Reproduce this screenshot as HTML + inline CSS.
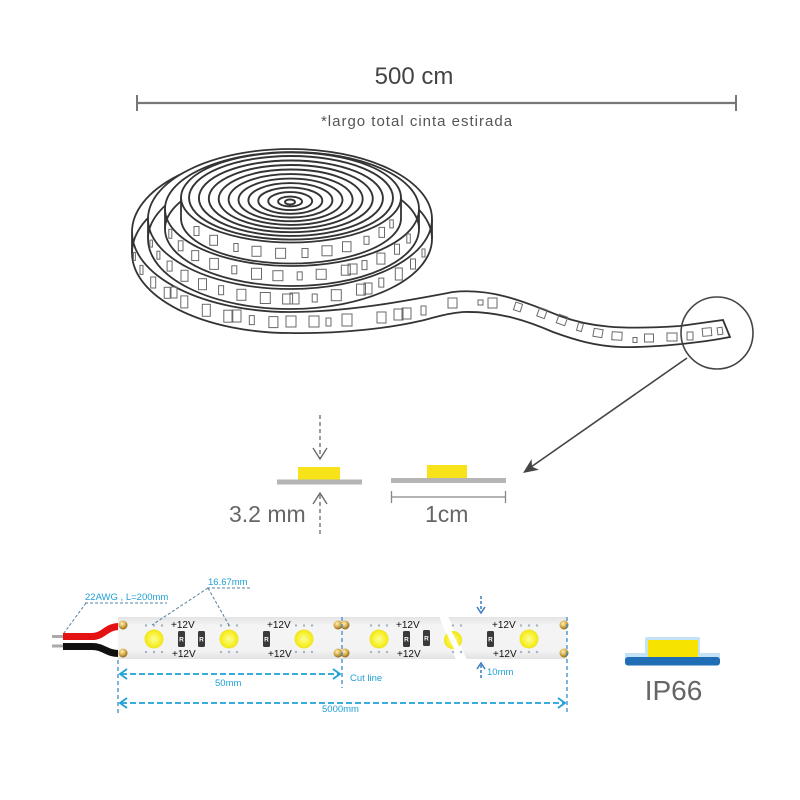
<!DOCTYPE html>
<html><head><meta charset="utf-8"><style>
html,body{margin:0;padding:0;background:#fff;}
svg{display:block;font-family:"Liberation Sans",Arial,sans-serif;}
</style></head><body>
<svg width="800" height="800" viewBox="0 0 800 800" xmlns="http://www.w3.org/2000/svg">
<defs>
<radialGradient id="gold" cx="40%" cy="35%" r="65%"><stop offset="0" stop-color="#fff2c0"/><stop offset="0.55" stop-color="#d9ae4c"/><stop offset="1" stop-color="#8f6a1c"/></radialGradient>
<radialGradient id="led" cx="50%" cy="50%" r="50%"><stop offset="0" stop-color="#fdfc9a"/><stop offset="0.7" stop-color="#f6f02a"/><stop offset="1" stop-color="#eee41c"/></radialGradient>
<linearGradient id="strip" x1="0" y1="0" x2="0" y2="1"><stop offset="0" stop-color="#e4e4e4"/><stop offset="0.2" stop-color="#f4f4f4"/><stop offset="0.8" stop-color="#f3f3f3"/><stop offset="1" stop-color="#e2e2e2"/></linearGradient>
</defs>
<rect width="800" height="800" fill="#fff"/>

<!-- top dimension -->
<text x="414" y="84" font-size="24" fill="#444" text-anchor="middle">500 cm</text>
<line x1="136" y1="103" x2="737" y2="103" stroke="#777" stroke-width="2.2"/>
<line x1="137" y1="95" x2="137" y2="111" stroke="#777" stroke-width="2"/>
<line x1="736" y1="95" x2="736" y2="111" stroke="#777" stroke-width="2"/>
<text x="417" y="126" font-size="15" letter-spacing="1" text-anchor="middle" fill="#555">*largo total cinta estirada</text>

<!-- coil -->
<g stroke="#333" stroke-width="1.8" fill="none">
  <!-- loop 4 + tail -->
  <path d="M290 152 A158 80 0 0 0 132 232 L132 253 A158 80 0 0 0 290 333 C340 334 390 328 420 321 C440 316 450 313 463 312 C500 311 530 322 553 332 C575 340 595 346 620 347 C650 348 700 343 730 337 L723 320 L680 326 C620 330 590 327 560 316 C520 300 490 288 453 292 C410 300 350 312 290 312 A158 80 0 0 1 132 232"/>
  <path d="M290 173 A158 80 0 0 0 132 253"/>
</g>
<g stroke="#6a6a6a" stroke-width="1" fill="none">
  <rect x="133.4" y="252.4" width="2" height="8"/>
  <rect x="140" y="265.4" width="3" height="9"/>
  <rect x="150.7" y="277" width="5" height="11"/>
  <rect x="164.2" y="287.3" width="6" height="11"/>
  <rect x="171" y="287" width="6" height="11"/>
  <rect x="180.8" y="295.9" width="7" height="12"/>
  <rect x="202.3" y="304.3" width="8" height="12"/>
  <rect x="223.8" y="310.2" width="9" height="12"/>
  <rect x="232" y="310" width="9" height="12"/>
  <rect x="249.3" y="315.6" width="5" height="9"/>
  <rect x="268.9" y="316.6" width="9" height="11"/>
  <rect x="286" y="316" width="10" height="11"/>
  <rect x="309" y="316" width="10" height="11"/>
  <rect x="326" y="318" width="5" height="8"/>
  <rect x="342" y="314" width="10" height="12"/>
  <rect x="377" y="312" width="9" height="11"/>
  <rect x="394" y="309" width="9" height="11"/>
  <rect x="402" y="308" width="9" height="11"/>
  <rect x="421" y="306" width="5" height="9"/>
  <rect x="448" y="298" width="9" height="10"/>
  <rect x="478" y="300" width="5" height="5"/>
  <rect x="488" y="298" width="9" height="10"/>
  <rect x="514.5" y="303" width="7" height="8" transform="rotate(18 518 307)"/>
  <rect x="538" y="308.5" width="8" height="9" transform="rotate(20 542 313)"/>
  <rect x="557.5" y="315.5" width="9" height="9" transform="rotate(20 562 320)"/>
  <rect x="577.5" y="323" width="5" height="8" transform="rotate(15 580 327)"/>
  <rect x="593.5" y="329" width="9" height="8" transform="rotate(10 598 333)"/>
  <rect x="612" y="332" width="10" height="8" transform="rotate(3 617 336)"/>
  <rect x="633" y="337.5" width="4" height="5"/>
  <rect x="644.5" y="334" width="9" height="8"/>
  <rect x="667" y="333" width="10" height="8"/>
  <rect x="687" y="332" width="6" height="8"/>
  <rect x="702.5" y="328" width="9" height="8" transform="rotate(-5 707 332)"/>
  <rect x="717.5" y="327.5" width="5" height="7" transform="rotate(-8 720 331)"/>
</g>

<!-- loop 3 -->
<path d="M148 219 A142 70 0 0 1 432 219 L432 239 A142 70 0 0 1 148 239 Z" fill="#fff" stroke="#333" stroke-width="1.8"/>
<path d="M148 219 A142 70 0 0 0 432 219 M148 239 A142 70 0 0 1 432 239" fill="none" stroke="#333" stroke-width="1.8"/>
<g stroke="#6a6a6a" stroke-width="1" fill="none">
  <rect x="149.9" y="240.1" width="2.5" height="7"/>
  <rect x="156.9" y="251.2" width="3" height="8"/>
  <rect x="167.1" y="261.1" width="5" height="10"/>
  <rect x="181" y="270.3" width="7" height="11"/>
  <rect x="198.5" y="278.7" width="8" height="11"/>
  <rect x="218.6" y="285.7" width="5" height="9"/>
  <rect x="236.9" y="289.3" width="9" height="11"/>
  <rect x="260.3" y="292.5" width="10" height="11"/>
  <rect x="282.6" y="294" width="10" height="10"/>
  <rect x="290" y="293" width="9" height="11"/>
  <rect x="312.2" y="294" width="5" height="8"/>
  <rect x="331.3" y="289.7" width="10" height="11"/>
  <rect x="356.5" y="284.1" width="9" height="11"/>
  <rect x="364" y="283" width="8" height="11"/>
  <rect x="378.8" y="278.1" width="5" height="9"/>
  <rect x="395.3" y="268" width="7" height="12"/>
  <rect x="410.5" y="259" width="5" height="10"/>
  <rect x="422" y="249" width="3" height="8"/>
</g>

<!-- loop 2 -->
<path d="M165 209 A127 57 0 0 1 419 209 L419 229 A127 57 0 0 1 165 229 Z" fill="#fff" stroke="#333" stroke-width="1.8"/>
<path d="M165 209 A127 57 0 0 0 419 209 M165 229 A127 57 0 0 1 419 229" fill="none" stroke="#333" stroke-width="1.8"/>
<g stroke="#6a6a6a" stroke-width="1" fill="none">
  <rect x="168.8" y="229.3" width="3" height="9"/>
  <rect x="178.3" y="240.8" width="4.7" height="10"/>
  <rect x="191.7" y="250.6" width="7" height="10"/>
  <rect x="209.7" y="258.4" width="8.7" height="11"/>
  <rect x="231.8" y="265.8" width="5" height="8"/>
  <rect x="251.5" y="268.3" width="10" height="11"/>
  <rect x="272.9" y="270.7" width="10" height="10"/>
  <rect x="297.2" y="271.9" width="5" height="8"/>
  <rect x="316.2" y="269.3" width="10" height="10"/>
  <rect x="341.3" y="265.2" width="9" height="10"/>
  <rect x="348" y="264" width="9" height="10"/>
  <rect x="362" y="260.6" width="5" height="9"/>
  <rect x="376.9" y="253.1" width="8" height="11"/>
  <rect x="394.5" y="244.2" width="5" height="10"/>
  <rect x="406.8" y="234" width="3.5" height="9"/>
</g>

<!-- loop 1 (reel side) -->
<path d="M181 197.5 A110 45 0 0 1 401 197.5 L401 218.5 A110 45 0 0 1 181 218.5 Z" fill="#fff" stroke="#333" stroke-width="1.8"/>
<path d="M181 197.5 A110 45 0 0 0 401 197.5" fill="none" stroke="#333" stroke-width="1.8"/>
<g stroke="#6a6a6a" stroke-width="1" fill="none">
  <rect x="194" y="226.5" width="5" height="9"/>
  <rect x="209.8" y="235.3" width="7.7" height="10"/>
  <rect x="233.8" y="243.5" width="4.3" height="8"/>
  <rect x="252" y="246.3" width="9" height="10"/>
  <rect x="275.6" y="248.3" width="10" height="10"/>
  <rect x="302" y="248.5" width="6" height="9"/>
  <rect x="322" y="245.8" width="10" height="10"/>
  <rect x="342.5" y="241.7" width="8.5" height="10"/>
  <rect x="364" y="236.3" width="5" height="8"/>
  <rect x="379" y="227.4" width="5.5" height="10"/>
  <rect x="389.8" y="219.9" width="3.5" height="8"/>
</g>

<!-- concentric rings -->
<g stroke="#333" stroke-width="1.9" fill="none">
  <ellipse cx="290" cy="202" rx="5" ry="2.5"/>
  <ellipse cx="290.1" cy="201.5" rx="12" ry="4.9"/>
  <ellipse cx="290.2" cy="201.1" rx="22" ry="9"/>
  <ellipse cx="290.3" cy="200.7" rx="32" ry="13.1"/>
  <ellipse cx="290.4" cy="200.3" rx="42" ry="17.2"/>
  <ellipse cx="290.5" cy="199.9" rx="52" ry="21.3"/>
  <ellipse cx="290.6" cy="199.5" rx="62" ry="25.4"/>
  <ellipse cx="290.7" cy="199" rx="72" ry="29.5"/>
  <ellipse cx="290.8" cy="198.6" rx="82" ry="33.6"/>
  <ellipse cx="290.9" cy="198.2" rx="92" ry="37.7"/>
  <ellipse cx="291" cy="197.8" rx="102" ry="41.8"/>
</g>

<!-- magnifier circle and arrow -->
<circle cx="717" cy="333" r="36" fill="none" stroke="#444" stroke-width="1.6"/>
<line x1="687" y1="358" x2="531" y2="467" stroke="#444" stroke-width="1.6"/>
<polygon points="523,473 539,469.7 532,466.7 531.6,459.1" fill="#444"/>

<!-- cross sections -->
<line x1="320" y1="415" x2="320" y2="458" stroke="#666" stroke-width="1.3" stroke-dasharray="4,3"/>
<polyline points="313,448 320,459 327,448" fill="none" stroke="#666" stroke-width="1.3"/>
<rect x="298" y="467" width="42" height="13" fill="#f8e21a"/>
<rect x="277" y="479.5" width="85" height="5" fill="#b5b5b5"/>
<polyline points="313,504 320,493 327,504" fill="none" stroke="#666" stroke-width="1.3"/>
<line x1="320" y1="495" x2="320" y2="536" stroke="#666" stroke-width="1.3" stroke-dasharray="4,3"/>
<text x="229" y="522" font-size="23" fill="#666">3.2 mm</text>

<rect x="427" y="465" width="40" height="13.5" fill="#f8e21a"/>
<rect x="391" y="478" width="115" height="5" fill="#b5b5b5"/>
<line x1="391" y1="497" x2="506" y2="497" stroke="#888" stroke-width="1.3"/>
<line x1="391.5" y1="491" x2="391.5" y2="503" stroke="#888" stroke-width="1.3"/>
<line x1="505.5" y1="491" x2="505.5" y2="503" stroke="#888" stroke-width="1.3"/>
<text x="425" y="522" font-size="23" fill="#666">1cm</text>

<!-- LED strip diagram -->
<line x1="52" y1="636.5" x2="64" y2="636.5" stroke="#aaa" stroke-width="3"/>
<line x1="52" y1="646" x2="64" y2="646" stroke="#aaa" stroke-width="3"/>
<path d="M63 636.5 L92 636.5 C104 636.5 106 626.5 119 626.5" fill="none" stroke="#e41212" stroke-width="7"/>
<path d="M63 646.5 L92 646.5 C104 646.5 106 653.5 119 653.5" fill="none" stroke="#111" stroke-width="7"/>

<rect x="118" y="617" width="449" height="42" fill="url(#strip)"/>
<!-- cut gap -->
<polygon points="439,616 448,616 467,660 456,660" fill="#fff"/>

<!-- pads -->
<g fill="url(#gold)">
  <circle cx="123" cy="625" r="4.5"/><circle cx="123" cy="653" r="4.5"/>
  <circle cx="338" cy="625" r="4.5"/><circle cx="345" cy="625" r="4.5"/>
  <circle cx="338" cy="653" r="4.5"/><circle cx="345" cy="653" r="4.5"/>
  <circle cx="564" cy="625" r="4.5"/><circle cx="564" cy="653" r="4.5"/>
</g>

<!-- LEDs -->
<g fill="url(#led)">
  <circle cx="154" cy="639" r="9.5"/>
  <circle cx="229" cy="639" r="9.5"/>
  <circle cx="304" cy="639" r="9.5"/>
  <circle cx="379" cy="639" r="9.5"/>
  <circle cx="453" cy="640" r="9"/>
  <circle cx="529" cy="639" r="9.5"/>
</g>
<polygon points="443,626 448,624 462,652 457,655" fill="#fff"/>
<g fill="#a3b4c4">
  <circle cx="146" cy="625.5" r="1.2"/><circle cx="154" cy="625.5" r="1.2"/><circle cx="162" cy="625.5" r="1.2"/>
  <circle cx="146" cy="652" r="1.2"/><circle cx="154" cy="652" r="1.2"/><circle cx="162" cy="652" r="1.2"/>
  <circle cx="221" cy="625.5" r="1.2"/><circle cx="229" cy="625.5" r="1.2"/><circle cx="237" cy="625.5" r="1.2"/>
  <circle cx="221" cy="652" r="1.2"/><circle cx="229" cy="652" r="1.2"/><circle cx="237" cy="652" r="1.2"/>
  <circle cx="296" cy="625.5" r="1.2"/><circle cx="304" cy="625.5" r="1.2"/><circle cx="312" cy="625.5" r="1.2"/>
  <circle cx="296" cy="652" r="1.2"/><circle cx="304" cy="652" r="1.2"/><circle cx="312" cy="652" r="1.2"/>
  <circle cx="371" cy="625.5" r="1.2"/><circle cx="379" cy="625.5" r="1.2"/><circle cx="387" cy="625.5" r="1.2"/>
  <circle cx="371" cy="652" r="1.2"/><circle cx="379" cy="652" r="1.2"/><circle cx="387" cy="652" r="1.2"/>
  <circle cx="453" cy="625.5" r="1.2"/><circle cx="461" cy="625.5" r="1.2"/>
  <circle cx="453" cy="652" r="1.2"/><circle cx="461" cy="652" r="1.2"/>
  <circle cx="521" cy="625.5" r="1.2"/><circle cx="529" cy="625.5" r="1.2"/><circle cx="537" cy="625.5" r="1.2"/>
  <circle cx="521" cy="652" r="1.2"/><circle cx="529" cy="652" r="1.2"/><circle cx="537" cy="652" r="1.2"/>
</g>

<!-- resistors -->
<g>
  <rect x="178" y="631" width="7" height="16" rx="1.5" fill="#3a3a3a"/>
  <rect x="198" y="631" width="7" height="16" rx="1.5" fill="#3a3a3a"/>
  <rect x="263" y="631" width="7" height="16" rx="1.5" fill="#3a3a3a"/>
  <rect x="403" y="631" width="7" height="16" rx="1.5" fill="#3a3a3a"/>
  <rect x="423" y="630" width="7" height="16" rx="1.5" fill="#3a3a3a"/>
  <rect x="487" y="631" width="7" height="16" rx="1.5" fill="#3a3a3a"/>
</g>
<g font-size="6.5" fill="#fff" text-anchor="middle" font-weight="bold">
  <text x="181.5" y="641.5">R</text><text x="201.5" y="641.5">R</text><text x="266.5" y="641.5">R</text>
  <text x="406.5" y="641.5">R</text><text x="426.5" y="640.5">R</text><text x="490.5" y="641.5">R</text>
</g>
<g font-size="10" fill="#111">
  <text x="171" y="628">+12V</text><text x="172" y="657">+12V</text>
  <text x="267" y="628">+12V</text><text x="268" y="657">+12V</text>
  <text x="396" y="628">+12V</text><text x="397" y="657">+12V</text>
  <text x="492" y="628">+12V</text><text x="493" y="657">+12V</text>
</g>

<!-- leaders -->
<g stroke="#55809f" stroke-width="1" stroke-dasharray="3,2" fill="none">
  <line x1="85" y1="603" x2="167" y2="603"/>
  <line x1="86" y1="603" x2="64" y2="633"/>
  <line x1="207" y1="588" x2="250" y2="588"/>
  <line x1="208" y1="588" x2="152" y2="625"/>
  <line x1="208" y1="588" x2="230" y2="627"/>
</g>
<g font-size="9.5" fill="#1f9fd6">
  <text x="85" y="600">22AWG , L=200mm</text>
  <text x="208" y="585">16.67mm</text>
  <text x="215" y="686">50mm</text>
  <text x="350" y="681">Cut line</text>
  <text x="322" y="712">5000mm</text>
  <text x="487" y="675">10mm</text>
</g>

<!-- dimension lines -->
<g stroke="#3a8cc8" stroke-width="1.3" stroke-dasharray="4,3" fill="none">
  <line x1="118" y1="660" x2="118" y2="716"/>
  <line x1="342" y1="617" x2="342" y2="688"/>
  <line x1="567" y1="617" x2="567" y2="712"/>
</g>
<g stroke="#1fa0d8" stroke-width="1.8" fill="none">
  <line x1="121" y1="674" x2="339" y2="674" stroke-dasharray="6,3"/>
  <polyline points="127,669 120,674 127,679"/>
  <polyline points="333,669 340,674 333,679"/>
  <line x1="121" y1="703" x2="564" y2="703" stroke-dasharray="6,3"/>
  <polyline points="127,698 120,703 127,708"/>
  <polyline points="558,698 565,703 558,708"/>
</g>
<g stroke="#3a7cc0" stroke-width="1.5" fill="none">
  <line x1="481" y1="596" x2="481" y2="611" stroke-dasharray="3,2"/>
  <polyline points="477,607 481,613 485,607"/>
  <polyline points="477,669 481,663 485,669"/>
  <line x1="481" y1="665" x2="481" y2="679" stroke-dasharray="3,2"/>
</g>

<!-- IP66 -->
<rect x="645" y="637" width="55" height="21" rx="2" fill="#c3e2f6"/>
<rect x="625" y="653" width="95" height="6" fill="#c3e2f6"/>
<rect x="648" y="640" width="50" height="17" fill="#f6e400"/>
<rect x="625" y="657" width="95" height="8.5" rx="3" fill="#1f6db5"/>
<text x="673.5" y="700" font-size="28" text-anchor="middle" fill="#666">IP66</text>
</svg>
</body></html>
